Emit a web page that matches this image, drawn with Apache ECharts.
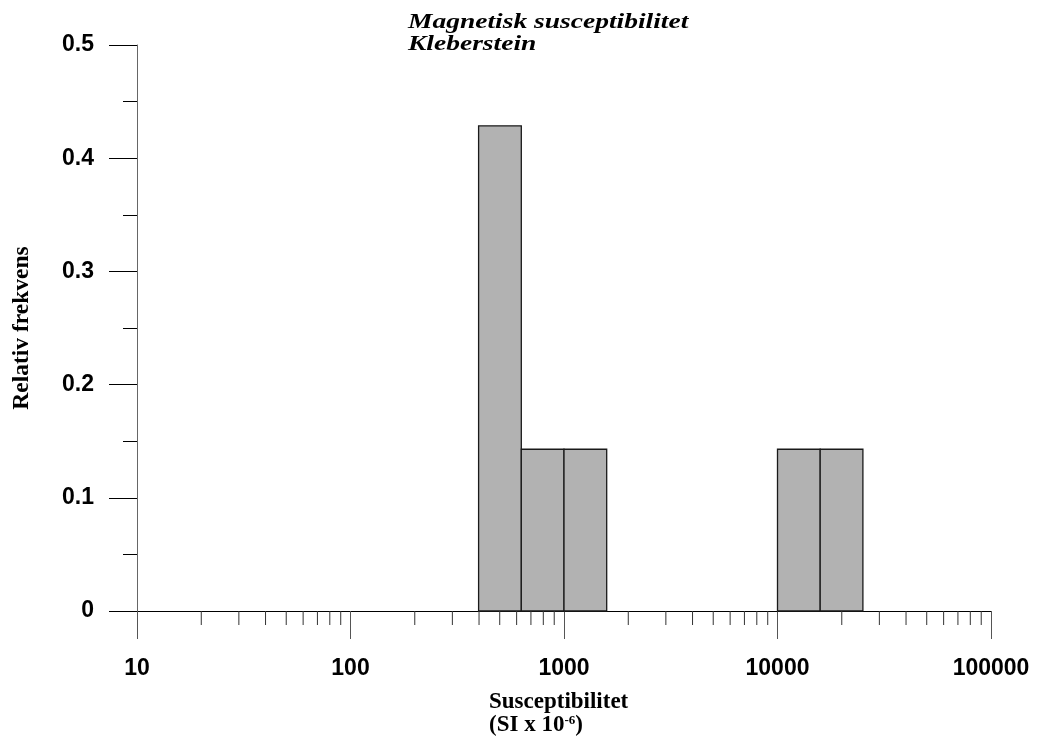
<!DOCTYPE html>
<html>
<head>
<meta charset="utf-8">
<script src="https://cdn.jsdelivr.net/npm/echarts@6/dist/echarts.min.js"></script>
<style>html,body{margin:0;padding:0;background:#fff}#c{width:1037px;height:747px}</style>
</head>
<body>
<div id="c"></div>
<script>
// Histogram bins (susceptibility, SI x 10^-6), log10 bin width 0.2
var binLow  = [398.1, 631.0, 1000, 10000, 15849];
var binHigh = [631.0, 1000, 1584.9, 15849, 25119];
var relFreq = [0.4286, 0.1429, 0.1429, 0.1429, 0.1429];
// Minor tick positions on the log axis
var minorTicksX = [20,30,40,50,60,70,80,90,200,300,400,500,600,700,800,900,2000,3000,4000,5000,6000,7000,8000,9000,20000,30000,40000,50000,60000,70000,80000,90000];
var titleLines = ['Magnetisk susceptibilitet', 'Kleberstein'];
var xName1 = 'Susceptibilitet';
var yName = 'Relativ frekvens';

var barData = binLow.map(function (lo, i) { return [lo, binHigh[i], relFreq[i]]; });
var tickData = minorTicksX.map(function (v) { return [v, 0]; });

var chart = echarts.init(document.getElementById('c'), null, {renderer: 'canvas'});
chart.setOption({
  animation: false,
  backgroundColor: '#fff',
  title: [{
    text: '{a|' + xName1 + '}\n{a|(SI x 10}{s|-6}{a|)}',
    left: 489, top: 691, padding: 0,
    textStyle: {
      rich: {
        a: {fontFamily: 'Liberation Serif', fontSize: 23, fontWeight: 'bold', color: '#000', lineHeight: 23},
        s: {fontFamily: 'Liberation Serif', fontSize: 13, fontWeight: 'bold', color: '#000', lineHeight: 23, verticalAlign: 'top', padding: [0,0,8,0]}
      }
    }
  }],
  graphic: [{
    type: 'text',
    x: 408, y: 11, scaleX: 1.25, scaleY: 1, originX: 0, originY: 0,
    style: {
      text: titleLines.join('\n'), x: 0, y: 0,
      fontFamily: 'Liberation Serif', fontSize: 22, fontWeight: 'bold', fontStyle: 'italic',
      lineHeight: 22, fill: '#000', align: 'left', verticalAlign: 'top'
    }
  }],
  grid: {left: 137, right: 46, top: 45, bottom: 136, containLabel: false},
  xAxis: {
    type: 'log', logBase: 10, min: 10, max: 100000,
    axisLine: {show: true, lineStyle: {color: '#000', width: 1}},
    axisTick: {show: true, inside: false, length: 28, lineStyle: {color: '#555', width: 1}},
    axisLabel: {margin: 46, fontFamily: 'Liberation Sans', fontWeight: 'bold', fontSize: 23, color: '#000',
      formatter: function (v) { return String(Math.round(v)); }},
    splitLine: {show: false}, minorTick: {show: false}
  },
  yAxis: {
    type: 'value', min: 0, max: 0.5, interval: 0.1,
    name: yName, nameLocation: 'middle', nameRotate: 90, nameGap: 103,
    nameTextStyle: {fontFamily: 'Liberation Serif', fontSize: 23.5, fontWeight: 'bold', color: '#000'},
    axisLine: {show: true, lineStyle: {color: '#666', width: 1}},
    axisTick: {show: true, inside: false, length: 28, lineStyle: {color: '#000', width: 1}},
    minorTick: {show: true, splitNumber: 2, length: 14, lineStyle: {color: '#000', width: 1}},
    axisLabel: {margin: 43, fontFamily: 'Liberation Sans', fontWeight: 'bold', fontSize: 23, color: '#000',
      formatter: function (v) { return v === 0 ? '0' : v.toFixed(1); }},
    splitLine: {show: false}
  },
  series: [{
    type: 'custom',
    data: barData,
    encode: {x: [0, 1], y: 2},
    renderItem: function (params, api) {
      var p0 = api.coord([api.value(0), 0]);
      var p1 = api.coord([api.value(1), api.value(2)]);
      return {
        type: 'rect',
        shape: {x: p0[0], y: p1[1], width: p1[0] - p0[0], height: p0[1] - p1[1]},
        style: {fill: '#b2b2b2', stroke: '#1a1a1a', lineWidth: 1.3}
      };
    },
    z: 2
  }, {
    type: 'custom',
    data: tickData,
    encode: {x: 0, y: 1},
    clip: false,
    renderItem: function (params, api) {
      var p = api.coord([api.value(0), 0]);
      return {
        type: 'line',
        shape: {x1: p[0], y1: p[1], x2: p[0], y2: p[1] + 14},
        style: {stroke: '#333', lineWidth: 1}
      };
    },
    z: 3
  }]
});
</script>
</body>
</html>
